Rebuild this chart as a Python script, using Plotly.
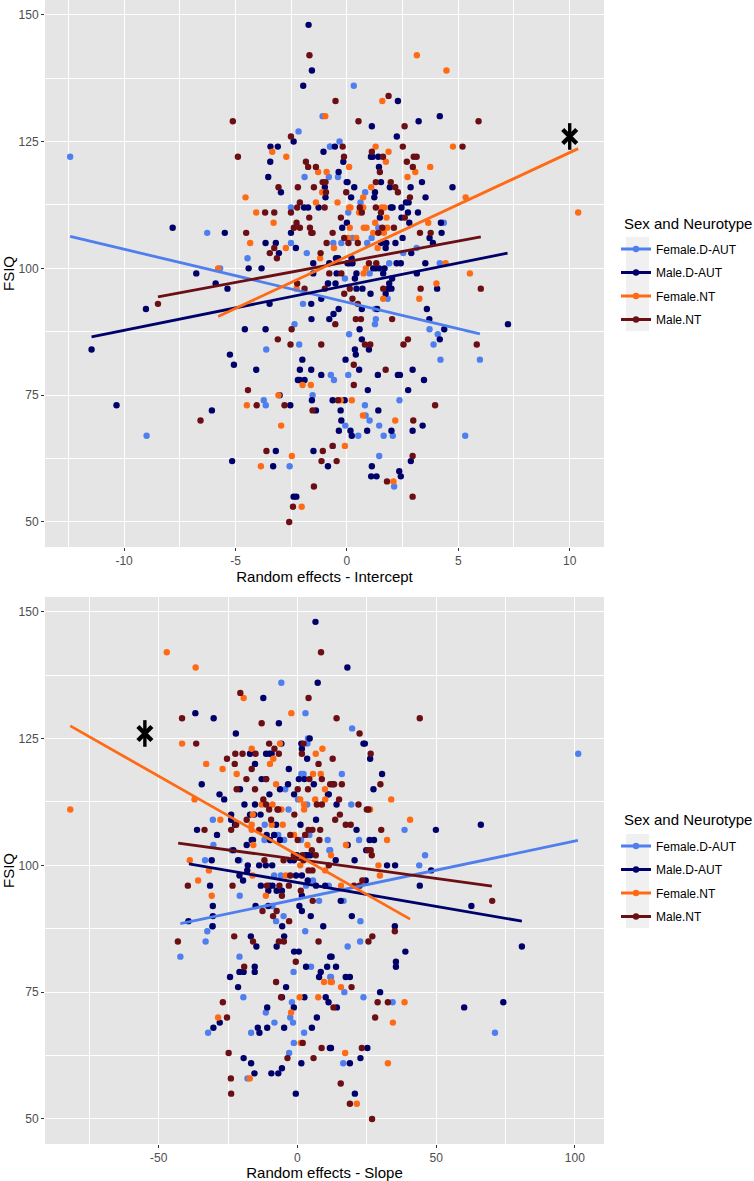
import plotly.graph_objects as go

series_names = ["Female.D-AUT", "Male.D-AUT", "Female.NT", "Male.NT"]
series_colors = ["#4F7FEE", "#00006B", "#FF6A14", "#6B0F14"]
legend_title = "Sex and Neurotype"
fsiq_ticks = [50, 75, 100, 125, 150]
int_ticks = [-10, -5, 0, 5, 10]
int_tick_labels = ["-10", "-5", "0", "5", "10"]
slope_ticks = [-50, 0, 50, 100]
slope_tick_labels = ["-50", "0", "50", "100"]

# Top panel: (random intercept, FSIQ)
int_female_aut = [(-12.42,122),(-1.09,130),(-2.17,127),(-0.76,124),(-1.90,118),(-2.51,112),(-6.27,107),(-2.51,105),(-1.80,103),(-4.46,102),(-5.69,100),(-0.84,97),(0.31,136),(-0.33,125),(-0.75,124),(-0.81,118),(-0.4,118),(0.82,115),(0.61,113),(0.06,111),(4.35,109),(1.41,108),(0.25,106),(1.11,106),(0.91,105),(-0.61,105),(-0.25,105),(3.13,104),(2.53,103),(4.17,101),(1.9,101),(1.02,99),(-0.09,98),(-1.97,93),(-2.35,89),(-2.14,85),(-3.62,84),(-1.54,75),(-3.73,74),(-3.64,73),(-8.99,67),(-2.57,61),(1.83,94),(1.27,92),(1.3,90),(1.26,89),(3.71,88),(0.1,87),(4.08,87),(3.89,85),(4.2,82),(5.97,82),(-0.72,79),(0.06,79),(-0.58,78),(2.36,74),(0.81,73),(0.84,71),(1.02,70),(-0.07,69),(1.45,69),(2.06,67),(1.65,67),(0.51,67),(5.31,67),(-0.63,65),(1.45,63),(2.12,57)]
int_male_aut = [(-1.72,148),(-1.57,139),(-1.96,136),(-2.39,125),(-3.43,124),(-3.10,124),(-1.05,123),(-3.44,121),(-3.53,118),(-0.99,116),(-2.96,115),(-0.96,114),(-1.92,112),(-1.74,112),(-1.27,112),(-7.82,108),(-5.48,107),(-2.51,107),(-3.65,105),(-3.19,105),(-2.29,104),(-3.05,103),(-1.51,101),(-0.79,101),(-4.41,100),(-3.83,100),(-6.76,99),(-1.51,99),(-5.89,97),(-5.36,96),(4.17,130),(3.22,129),(1.12,128),(2.29,133),(2.24,126),(-0.54,124),(1.08,122),(1.15,122),(1.41,122),(-0.16,121),(1.44,120),(-0.37,119),(-0.01,117),(0.03,117),(1.53,117),(3.37,117),(1.93,116),(2.86,116),(4.74,116),(0.33,116),(1.26,115),(0.19,114),(1.23,114),(3.53,114),(2.65,113),(2.77,113),(1.97,112),(2.05,112),(2.45,112),(2.74,111),(3.19,111),(1.48,110),(2.45,110),(2.8,109),(0,109),(4.22,109),(-0.21,108),(4.25,107),(3.71,106),(2.5,106),(1.53,105),(1.77,105),(2.18,105),(3.86,105),(1.74,104),(2.89,103),(-0.49,102),(-0.39,102),(0.21,102),(0.13,101),(0.25,101),(0.03,101),(3.52,101),(2.23,101),(2.42,101),(1.18,100),(1.3,100),(1.45,100),(1.69,100),(3.14,99),(1.63,99),(0.43,99),(-0.46,99),(0.36,98),(2.03,98),(-0.51,97),(-0.85,97),(1.9,97),(4.05,96),(0.7,96),(0.43,96),(1.86,96),(2.0,96),(-9.02,92),(-3.47,93),(-1.6,93),(-1.15,94),(-1.59,90),(-0.79,90),(-4.58,88),(-3.65,88),(-11.46,84),(-5.25,83),(-2,82),(-5.07,81),(-4.07,80),(-2.11,80),(-1.6,80),(-1.15,79),(-2.2,78),(-2.12,78),(-1.9,78),(-3.02,75),(-1.57,74),(-10.34,73),(-2.54,73),(-6.06,72),(-1.39,72),(-3.19,64),(-1.5,64),(-5.15,62),(-0.85,61),(-3.31,61),(-2.39,55),(-2.27,55),(1.06,95),(1.74,95),(1.36,92),(0.67,92),(-0.37,92),(-0.6,91),(3.59,92),(3.7,90),(0.57,88),(4.37,88),(7.23,89),(0.67,86),(4.17,86),(0.99,84),(0.36,84),(0.4,83),(-0.06,82),(0.55,80),(2.29,79),(2.38,79),(2.95,80),(1.39,79),(3.46,78),(0.94,76),(2.75,76),(-0.64,74),(-0.1,74),(-0.28,72),(1.41,72),(-0.25,70),(3.4,69),(-0.36,68),(0.16,68),(0.91,68),(2.95,68),(2,68),(0.22,67),(2.87,62),(1.12,61),(2.35,60),(1.09,59),(1.33,59),(2.42,59)]
int_female_nt = [(-0.97,130),(-3.35,123),(-2.72,122),(-1.29,119),(-0.91,119),(-1.11,115),(-4.55,114),(-1.39,113),(-4.07,111),(-3.29,109),(-4.34,105),(-2.74,104),(-1.2,102),(-5.78,100),(-2.26,96),(3.14,142),(4.47,139),(1.59,133),(1.29,124),(4.76,124),(1.87,123),(1.75,121),(0.1,120),(3.74,120),(3.07,119),(2.72,118),(1.09,116),(0.73,114),(5.33,114),(-0.42,113),(0.1,112),(1.56,112),(1.69,112),(0.73,112),(0.16,112),(0.55,111),(1.78,110),(3.65,109),(1.27,109),(0.13,108),(0.76,108),(0.88,108),(1.81,108),(1.18,107),(1.66,107),(0.06,106),(0.42,106),(1.38,104),(-0.58,104),(4.43,101),(0.85,100),(5.52,99),(0.75,99),(4.02,97),(10.38,111),(-3.07,75),(-1.99,77),(-1.62,77),(-4.49,73),(-2.95,69),(-2.47,63),(-3.86,61),(-2.03,53),(3.25,94),(1.63,94),(0.22,74),(-0.28,74),(0.72,71),(2.17,70),(-0.09,65),(2.09,58)]
int_male_nt = [(-1.68,142),(-5.12,129),(-2.51,126),(-4.89,122),(-1.84,121),(-1.74,120),(-1.39,120),(-1.09,117),(-0.96,117),(-3.07,116),(-2.2,116),(-1.48,116),(-0.94,115),(-2.11,113),(-2.23,112),(-1,112),(-3.67,111),(-3.26,111),(-2.51,111),(-1.69,110),(-2.26,109),(-2.38,108),(-2.11,108),(-4.52,107),(-1.66,108),(-1.6,107),(-1.54,107),(-0.91,105),(-3.26,104),(-3.46,103),(-1.18,103),(-3.14,102),(-0.79,99),(-2.23,97),(-1.9,96),(1.87,134),(-0.51,133),(5.91,129),(0.52,129),(2.59,128),(-0.19,124),(2.51,124),(5.19,124),(1.12,123),(-0.13,122),(1.62,122),(3,122),(3.13,122),(2.69,121),(2.96,120),(1.48,119),(1.3,117),(1.97,117),(2.17,116),(2.29,115),(-0.03,115),(2.83,114),(1.3,112),(0.58,112),(0.67,111),(1.53,111),(-0.27,110),(2.6,110),(1.59,108),(2.11,108),(-0.64,107),(1.41,107),(3.28,107),(3.76,107),(-0.12,106),(0.07,105),(0.49,105),(0.99,101),(1.32,101),(-0.25,99),(3.31,96),(6.01,96),(0.13,96),(1.63,96),(-0.99,96),(-8.48,93),(-2.48,88),(-3.1,86),(-2.53,85),(-1.15,85),(-4.44,76),(-4.05,73),(-2.8,73),(-1.54,72),(-6.57,70),(-3.61,64),(-1.08,64),(-1.14,62),(-1.48,57),(-2.42,53),(-2.59,50),(-0.12,95),(0.25,94),(0.49,93),(0.63,90),(2.03,90),(0.4,90),(-0.52,89),(2.74,86),(0.81,85),(1.05,85),(5.83,85),(2.54,85),(0.31,81),(1.74,80),(0.31,77),(-0.4,74),(3.96,73),(2.98,70),(-0.64,65),(2.95,63),(-0.46,62),(1.8,58),(2.95,55)]

# Bottom panel: (random slope, FSIQ)
slope_female_aut = [(-5.8,136),(2.9,130),(3.8,125),(3.6,124),(1.4,118),(2.2,118),(-4.4,115),(0.2,113),(3.5,112),(-3.2,111),(-30.5,109),(-11.8,108),(-6.9,106),(-4.8,105),(4.3,106),(-11.9,105),(1.3,105),(10.9,105),(-30.3,104),(-23.7,103),(11.5,103),(-33.3,101),(-20.9,101),(-8.4,98),(-6,98),(5.6,97),(3.1,96),(19.7,127),(101.2,122),(16,118),(19.4,112),(38.6,107),(22.2,105),(11.8,103),(46,102),(43.9,100),(11.3,96),(-20.8,94),(7.8,93),(-9,92),(-5,90),(-7.7,89),(-30.6,88),(-32.5,87),(2.8,87),(-33.1,85),(-42.2,82),(-20.9,82),(4.9,80),(-1.4,79),(11.8,78),(-19.5,74),(-2,73),(-11.4,71),(-2.6,70),(-1.6,69),(-8.3,69),(-16.7,67),(-32.2,67),(2.4,67),(-1.3,65),(-3,63),(-18,58),(16.6,93),(22.7,89),(22.6,85),(18.1,84),(12.1,78),(16.9,75),(23.8,74),(34.3,73),(71.2,67),(16.5,61)]
slope_male_aut = [(6.5,148),(7.3,136),(-12.3,133),(-36.8,130),(-30.2,129),(-6.7,128),(-22.2,126),(4.4,125),(-5.8,124),(1.4,124),(1.6,123),(-17.1,122),(-11.3,122),(-10.1,122),(-9.3,122),(3.5,121),(-15.3,120),(-3.1,119),(0.5,117),(-12.9,117),(-11.3,117),(2.5,117),(-20.7,115),(-34.5,116),(-3.4,116),(5.9,116),(-6.3,115),(-1.2,114),(-28.1,114),(-26.4,113),(-10.1,114),(11,114),(-15.3,112),(-19.1,112),(-23.9,110),(-23.9,109),(-15.6,110),(-17.1,110),(-13.3,110),(-22.5,108),(6.7,109),(-7.7,108),(1.1,108),(-36.2,107),(-29,106),(-11.1,106),(-8.4,106),(-6.3,105),(-16.5,105),(-16,105),(-9.9,105),(-18.3,104),(-23.1,103),(-0.2,102),(2.8,102),(4.6,102),(3.6,102),(-30.9,101),(-21.4,101),(-2.6,101),(-1.3,101),(-13.8,100),(-11.4,100),(-9.1,100),(-17.9,100),(-20.9,98),(-18.1,99),(1.6,98),(-0.5,98),(3.7,97),(-19.6,97),(-31.5,96),(-13.2,96),(-10.1,96),(-9,96),(6.7,96),(10,96),(18,139),(23.8,124),(24.3,124),(26.2,121),(30.5,118),(12.7,116),(27.4,115),(11.3,114),(14.1,112),(21.3,107),(49.9,107),(66.1,108),(26,105),(27.6,105),(18.1,104),(24.8,103),(13.8,101),(20.6,101),(32.3,100),(35.2,100),(48.2,99),(24.6,97),(44.1,96),(-10.5,95),(-7.5,95),(-5.6,95),(1.6,94),(-30.5,92),(-15.1,92),(-10.5,92),(0.7,92),(1.6,91),(-30.5,90),(4.8,90),(-39.3,89),(-5.5,88),(-30.6,88),(9.3,88),(-16.8,86),(-4.8,86),(-7.5,84),(-14.8,84),(-1.2,83),(0.5,83),(11.8,82),(-15.4,80),(-15.4,79),(-20.9,79),(-19.4,79),(3.1,80),(10.7,80),(8.4,79),(-24.3,78),(7.8,78),(-4.1,76),(-21.4,76),(-5.6,74),(2.5,74),(10.2,74),(11.2,73),(-1.3,72),(-10.9,72),(7,70),(-28,69),(-30.3,68),(-10.9,68),(-4.8,68),(5.2,68),(-14.3,68),(-13.7,67),(11.7,64),(-19.4,62),(-16.7,61),(1.4,61),(-5.6,60),(-15.5,59),(-9.4,59),(-6.9,59),(-0.6,55),(15.6,93),(62.7,92),(19.6,90),(35.1,88),(80.9,84),(38.9,83),(12.3,82),(35.5,81),(35.5,80),(13.9,80),(17.4,78),(18.9,78),(29.8,75),(74.2,73),(60.1,72),(14.2,72),(12.1,64),(25.2,64),(22.7,62),(18.9,61),(20.7,55)]
slope_female_nt = [(-81.9,111),(-47.1,142),(-36.7,139),(-19.4,133),(-2.2,130),(-41.6,124),(-6.3,124),(-16.5,123),(9,123),(6.6,122),(-8.7,121),(-9.9,120),(-32.9,120),(-27,119),(5.6,118),(8.4,118),(-21.9,118),(-7.7,116),(9.9,115),(-37.1,113),(1,113),(6.4,113),(10,113),(-12.9,112),(2.4,112),(2.4,111),(-9,112),(-5.8,111),(-16.1,110),(-27.8,109),(-16.5,108),(-9.3,108),(-5.3,108),(-16.5,107),(2.8,106),(-1.2,106),(-15.9,104),(3.6,104),(-38.8,101),(1,100),(-31.9,99),(-16.2,98),(-4.2,98),(-35.8,97),(33.8,113),(26.2,111),(40.6,109),(32.3,105),(17.5,104),(12.1,102),(29.2,100),(10,99),(29.7,98),(15.7,96),(-30.9,94),(-11.4,94),(9.6,77),(12,77),(0.8,74),(7.5,74),(-2.3,71),(-28.6,70),(1.2,65),(-17.2,58),(12.4,77),(15.7,76),(38.6,73),(34.4,69),(17.2,63),(32.6,61),(21.4,53)]
slope_male_nt = [(8.5,142),(-20.6,134),(4,133),(-41.6,129),(-12.9,128),(-36.5,124),(-10.2,124),(2.2,124),(-8.3,123),(-6.7,122),(-22.4,122),(-19.8,122),(-15.1,122),(1.6,122),(-25.4,121),(-22.6,120),(7.6,120),(-16.5,119),(-18.4,117),(4.3,117),(8.8,117),(-11.3,117),(-15.3,115),(-21.9,115),(3.8,115),(0.1,115),(-12.3,113),(7,112),(8.8,112),(-11.3,112),(-6.9,111),(-7.2,111),(-10.2,111),(-1.1,110),(-9.5,109),(-18.3,109),(-22.1,108),(5.4,107),(-23.9,107),(-33.5,107),(-13.8,107),(4,107),(8.2,107),(2.8,106),(-2.6,106),(0.1,105),(7.9,105),(5.2,103),(-1.3,102),(1.8,102),(6.6,102),(-11.9,101),(-5,101),(2.2,101),(4,99),(5.4,99),(-2.6,98),(-39.5,96),(-23.4,96),(-11,96),(-6.5,96),(-3.1,96),(14.1,129),(44.1,129),(22.4,126),(12.7,121),(26.4,122),(11.8,116),(13.2,116),(16,116),(29.9,116),(15,113),(22,112),(25,111),(25.6,111),(15.3,110),(13.6,109),(17.4,108),(19.2,108),(30.2,107),(25.4,103),(26.4,103),(26.8,102),(11.3,100),(23.4,97),(20.4,96),(22.4,96),(-5.6,94),(1.2,95),(5.5,93),(-12.6,91),(-7.5,91),(-8.8,90),(-3,89),(-22.8,86),(-43.1,85),(-6.7,85),(-4.9,85),(7.6,85),(-16,85),(-0.6,81),(-19.2,80),(-7.7,77),(-5.9,74),(-26.9,73),(-25.4,70),(1.9,65),(8.7,64),(-24.8,63),(-3.6,62),(5.8,62),(-24,58),(-23.9,55),(70.2,93),(35.1,87),(27,86),(25.6,85),(19.5,76),(28.9,73),(32.6,73),(13,72),(28,70),(23.2,64),(15.6,57),(18.9,53),(26.9,50)]

# Fitted lines: start and end of each series
int_fit_female_aut = [(-12.42,106.3),(5.97,87.1)]
int_fit_male_aut = [(-11.46,86.5),(7.21,103.0)]
int_fit_female_nt = [(-5.78,90.5),(10.38,123.6)]
int_fit_male_nt = [(-8.48,94.4),(6.01,106.2)]
slope_fit_female_aut = [(-42.2,88.5),(101.1,104.9)]
slope_fit_male_aut = [(-39.1,100.3),(80.9,89.0)]
slope_fit_female_nt = [(-81.9,127.5),(40.6,89.4)]
slope_fit_male_nt = [(-43.0,104.4),(70.1,95.9)]

# Highlighted individual in each panel
int_star = [(10.0,126)]
slope_star = [(-55.0,126)]

W, H = 754, 1181
FONT = "Liberation Sans"
fig = go.Figure()

def add_panel(points, fits, star, xa, ya, legend):
    for pts, col in zip(points, series_colors):
        fig.add_trace(go.Scatter(x=[p[0] for p in pts], y=[p[1] for p in pts], mode="markers",
                                 marker=dict(color=col, size=6.4), showlegend=False, hoverinfo="skip",
                                 xaxis=xa, yaxis=ya))
    for idx in (0, 1, 3, 2):
        fit = fits[idx]
        fig.add_trace(go.Scatter(x=[p[0] for p in fit], y=[p[1] for p in fit], mode="lines",
                                 line=dict(color=series_colors[idx], width=2.8), showlegend=False,
                                 hoverinfo="skip", xaxis=xa, yaxis=ya))
    sx, sy = [p[0] for p in star], [p[1] for p in star]
    for sym, size, w in (("x-thin-open", 14, 4.4), ("line-ns-open", 19, 3.4)):
        fig.add_trace(go.Scatter(x=sx, y=sy, mode="markers", showlegend=False, hoverinfo="skip",
                                 marker=dict(symbol=sym, size=size, color="black", line=dict(color="black", width=w)),
                                 xaxis=xa, yaxis=ya))
    for name, col in zip(series_names, series_colors):
        fig.add_trace(go.Scatter(x=[None], y=[None], mode="lines+markers", name=name, legend=legend,
                                 legendgroup=legend + name, line=dict(color=col, width=2.8),
                                 marker=dict(color=col, size=6.4), xaxis=xa, yaxis=ya))

add_panel([int_female_aut, int_male_aut, int_female_nt, int_male_nt],
          [int_fit_female_aut, int_fit_male_aut, int_fit_female_nt, int_fit_male_nt],
          int_star, "x", "y", "legend")
add_panel([slope_female_aut, slope_male_aut, slope_female_nt, slope_male_nt],
          [slope_fit_female_aut, slope_fit_male_aut, slope_fit_female_nt, slope_fit_male_nt],
          slope_star, "x2", "y2", "legend2")

def xaxis(rng, ticks, labels, minor, title, anchor, standoff):
    return dict(domain=[45 / W, 604 / W], range=rng, anchor=anchor, tickmode="array", tickvals=ticks, ticktext=labels,
                zeroline=False, showgrid=True, gridcolor="white", gridwidth=1.4, ticks="outside", ticklen=3, tickwidth=1,
                tickcolor="#333333", tickfont=dict(family=FONT, size=12, color="#4d4d4d"),
                minor=dict(dtick=minor, tick0=0, showgrid=True, gridcolor="white", gridwidth=0.7, ticks=""),
                title=dict(text=title, standoff=standoff, font=dict(family=FONT, size=15, color="black")))

def yaxis(top, bottom, title, anchor):
    return dict(domain=[(H - bottom) / H, (H - top) / H], range=[45.07, 152.9], anchor=anchor,
                tickmode="array", tickvals=fsiq_ticks,
                zeroline=False, showgrid=True, gridcolor="white", gridwidth=1.4, ticks="outside", ticklen=3,
                tickwidth=1, tickcolor="#333333", tickfont=dict(family=FONT, size=12, color="#4d4d4d"),
                minor=dict(dtick=12.5, tick0=0, showgrid=True, gridcolor="white", gridwidth=0.7, ticks=""),
                title=dict(text=title, standoff=4, font=dict(family=FONT, size=15, color="black")))

def legend_cfg(y_px):
    return dict(x=616 / W, y=1 - y_px / H, xanchor="left", yanchor="top", bgcolor="rgba(0,0,0,0)",
                font=dict(family=FONT, size=12, color="black"), tracegroupgap=4.5, traceorder="grouped",
                itemclick=False, itemdoubleclick=False)

key_bg = [dict(type="rect", xref="paper", yref="paper", x0=626 / W, x1=649 / W,
               y0=1 - b / H, y1=1 - t / H, fillcolor="#F0F0F0", line_width=0, layer="below")
          for t, b in ((237, 331), (834, 928))]

legend_titles = [dict(text=legend_title, xref="paper", yref="paper", x=622 / W, y=1 - c / H, xanchor="left",
                      yanchor="middle", showarrow=False, font=dict(family=FONT, size=15, color="black"))
                 for c in (223, 820)]

fig.update_layout(
    width=W, height=H, autosize=False, margin=dict(l=0, r=0, t=0, b=0),
    paper_bgcolor="white", plot_bgcolor="#E5E5E5", font=dict(family=FONT),
    xaxis=xaxis([-13.55, 11.54], int_ticks, int_tick_labels, 2.5, "Random effects - Intercept", "y", 0),
    yaxis=yaxis(0, 547, "FSIQ", "x"),
    xaxis2=xaxis([-91, 110.5], slope_ticks, slope_tick_labels, 25, "Random effects - Slope", "y2", 0),
    yaxis2=yaxis(597, 1144, "FSIQ", "x2"),
    legend=legend_cfg(234.5), legend2=legend_cfg(831.5), shapes=key_bg, annotations=legend_titles,
)

fig.write_html("out.html", config=dict(displayModeBar=False), post_script="document.body.style.margin='0';")
